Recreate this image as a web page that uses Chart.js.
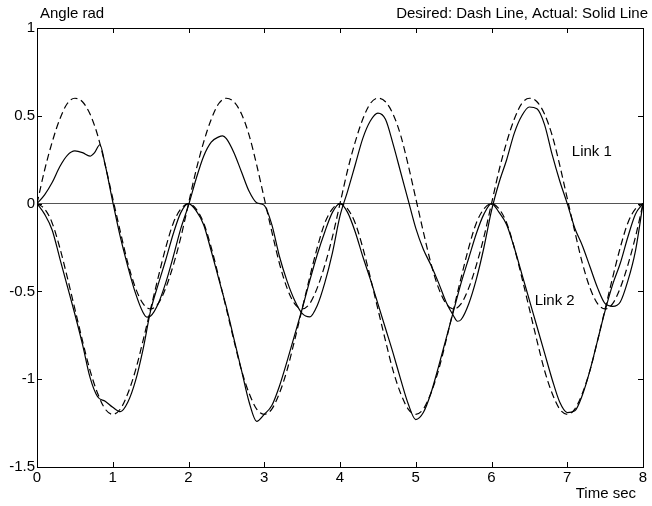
<!DOCTYPE html>
<html>
<head>
<meta charset="utf-8">
<script src="https://cdn.jsdelivr.net/npm/chart.js@4.4.1/dist/chart.umd.min.js"></script>
<style>
    body { margin: 0; background: #fff; }
    canvas { display: block; }
</style>
</head>
<body>
<canvas id="angleChart" width="652" height="506"></canvas>
<script>
// Time axis (sec), sampled every 0.1 s
const time = [
    0, 0.1, 0.2, 0.3, 0.4, 0.5, 0.6, 0.7, 0.8, 0.9,
    1, 1.1, 1.2, 1.3, 1.4, 1.5, 1.6, 1.7, 1.8, 1.9,
    2, 2.1, 2.2, 2.3, 2.4, 2.5, 2.6, 2.7, 2.8, 2.9,
    3, 3.1, 3.2, 3.3, 3.4, 3.5, 3.6, 3.7, 3.8, 3.9,
    4, 4.1, 4.2, 4.3, 4.4, 4.5, 4.6, 4.7, 4.8, 4.9,
    5, 5.1, 5.2, 5.3, 5.4, 5.5, 5.6, 5.7, 5.8, 5.9,
    6, 6.1, 6.2, 6.3, 6.4, 6.5, 6.6, 6.7, 6.8, 6.9,
    7, 7.1, 7.2, 7.3, 7.4, 7.5, 7.6, 7.7, 7.8, 7.9,
    8
];

// Desired link 1 (dashed)
const link1Desired = [
    0, 0.19, 0.35, 0.48, 0.57, 0.60, 0.58, 0.51, 0.39, 0.22,
    0.03, -0.16, -0.34, -0.48, -0.57, -0.60, -0.57, -0.48, -0.35, -0.19,
    0, 0.19, 0.35, 0.48, 0.57, 0.60, 0.58, 0.51, 0.39, 0.22,
    0.03, -0.16, -0.34, -0.48, -0.57, -0.60, -0.57, -0.48, -0.35, -0.19,
    0, 0.19, 0.35, 0.48, 0.57, 0.60, 0.58, 0.51, 0.39, 0.22,
    0.03, -0.16, -0.34, -0.48, -0.57, -0.60, -0.57, -0.48, -0.35, -0.19,
    0, 0.19, 0.35, 0.48, 0.57, 0.60, 0.58, 0.51, 0.39, 0.22,
    0.03, -0.16, -0.34, -0.48, -0.57, -0.60, -0.57, -0.48, -0.35, -0.19,
    0
];

// Desired link 2 (dashed)
const link2Desired = [
    0, -0.03, -0.11, -0.25, -0.42, -0.60, -0.78, -0.95, -1.08, -1.17,
    -1.20, -1.17, -1.08, -0.95, -0.78, -0.60, -0.42, -0.25, -0.11, -0.03,
    0, -0.03, -0.11, -0.25, -0.42, -0.60, -0.78, -0.95, -1.08, -1.17,
    -1.20, -1.17, -1.08, -0.95, -0.78, -0.60, -0.42, -0.25, -0.11, -0.03,
    0, -0.03, -0.11, -0.25, -0.42, -0.60, -0.78, -0.95, -1.08, -1.17,
    -1.20, -1.17, -1.08, -0.95, -0.78, -0.60, -0.42, -0.25, -0.11, -0.03,
    0, -0.03, -0.11, -0.25, -0.42, -0.60, -0.78, -0.95, -1.08, -1.17,
    -1.20, -1.17, -1.08, -0.95, -0.78, -0.60, -0.42, -0.25, -0.11, -0.03,
    0
];

// Actual link 2 (solid)
const link2Actual = [
    0, -0.06, -0.15, -0.31, -0.47, -0.63, -0.80, -0.99, -1.10, -1.125,
    -1.16, -1.185, -1.13, -1.01, -0.83, -0.61, -0.46, -0.32, -0.17, -0.05,
    0, -0.04, -0.12, -0.27, -0.43, -0.59, -0.77, -0.95, -1.13, -1.24,
    -1.20, -1.15, -1.04, -0.90, -0.75, -0.60, -0.44, -0.29, -0.16, -0.05,
    0, -0.05, -0.16, -0.30, -0.43, -0.57, -0.71, -0.85, -1.00, -1.14,
    -1.23, -1.19, -1.08, -0.93, -0.77, -0.61, -0.45, -0.31, -0.17, -0.06,
    0, -0.05, -0.12, -0.25, -0.40, -0.55, -0.70, -0.85, -1.00, -1.13,
    -1.19, -1.18, -1.09, -0.95, -0.78, -0.61, -0.46, -0.34, -0.19, -0.06,
    0
];

// Actual link 1 (solid) has a few extra samples around the wiggles
const link1ActualTime = [
    0, 0.1, 0.2, 0.3, 0.4, 0.5, 0.6, 0.7, 0.76, 0.83, 0.9,
    1, 1.1, 1.2, 1.3, 1.4, 1.45, 1.5, 1.6, 1.7, 1.8, 1.9,
    2, 2.1, 2.2, 2.3, 2.4, 2.45, 2.5, 2.6, 2.7, 2.8, 2.9,
    3, 3.1, 3.2, 3.3, 3.4, 3.5, 3.6, 3.7, 3.8, 3.9,
    4, 4.1, 4.2, 4.3, 4.4, 4.5, 4.6, 4.7, 4.8, 4.9,
    5, 5.1, 5.2, 5.3, 5.4, 5.5, 5.55, 5.6, 5.7, 5.8, 5.9,
    6, 6.1, 6.2, 6.3, 6.4, 6.5, 6.6, 6.7, 6.8, 6.9,
    7, 7.1, 7.2, 7.3, 7.4, 7.5, 7.6, 7.7, 7.8, 7.9,
    8
];
const link1Actual = [
    0, 0.05, 0.12, 0.21, 0.275, 0.30, 0.29, 0.27, 0.29, 0.335, 0.22,
    0.01, -0.19, -0.36, -0.51, -0.62, -0.646, -0.64, -0.57, -0.45, -0.30, -0.14,
    -0.01, 0.14, 0.27, 0.35, 0.38, 0.386, 0.37, 0.29, 0.18, 0.07, 0.005,
    -0.01, -0.12, -0.30, -0.44, -0.55, -0.625, -0.645, -0.58, -0.45, -0.28,
    -0.07, 0.07, 0.22, 0.37, 0.47, 0.515, 0.48, 0.34, 0.18, 0.02,
    -0.14, -0.26, -0.35, -0.45, -0.56, -0.64, -0.67, -0.66, -0.57, -0.43, -0.25,
    -0.04, 0.12, 0.25, 0.40, 0.50, 0.55, 0.54, 0.45, 0.28, 0.13,
    0.0, -0.14, -0.24, -0.36, -0.48, -0.57, -0.585, -0.56, -0.44, -0.27,
    0
];

const xTicks = [0, 1, 2, 3, 4, 5, 6, 7, 8];
const yTicks = [-1.5, -1, -0.5, 0, 0.5, 1];

const FONT = '"Liberation Sans", Arial, Helvetica, sans-serif';

function toPoints(xs, ys) {
    return xs.map((x, i) => ({ x: x, y: ys[i] }));
}

// box around the plot, inward ticks and the text labels
const framePlugin = {
    id: 'frame',
    afterDraw(chart) {
        const ctx = chart.ctx;
        const area = chart.chartArea;
        const xs = chart.scales.x;
        const ys = chart.scales.y;
        ctx.save();
        ctx.strokeStyle = '#000';
        ctx.lineWidth = 1;
        ctx.strokeRect(area.left + 0.5, area.top + 0.5, area.right - area.left, area.bottom - area.top);

        ctx.beginPath();
        xTicks.forEach(v => {
            const px = Math.round(xs.getPixelForValue(v)) + 0.5;
            ctx.moveTo(px, area.bottom);
            ctx.lineTo(px, area.bottom - 5);
            ctx.moveTo(px, area.top);
            ctx.lineTo(px, area.top + 5);
        });
        yTicks.forEach(v => {
            const py = Math.round(ys.getPixelForValue(v)) + 0.5;
            ctx.moveTo(area.left, py);
            ctx.lineTo(area.left + 5, py);
            ctx.moveTo(area.right, py);
            ctx.lineTo(area.right - 5, py);
        });
        ctx.stroke();

        ctx.fillStyle = '#000';
        ctx.font = '15px ' + FONT;
        ctx.textBaseline = 'alphabetic';
        ctx.textAlign = 'left';
        ctx.fillText('Angle rad', 40, 18);
        ctx.textAlign = 'right';
        ctx.fillText('Desired: Dash Line, Actual: Solid Line', 648, 18);
        ctx.fillText('Time sec', 636, 498);

        ctx.textAlign = 'left';
        ctx.fillText('Link 1', xs.getPixelForValue(7.06), ys.getPixelForValue(0.27));
        ctx.fillText('Link 2', xs.getPixelForValue(6.57), ys.getPixelForValue(-0.575));
        ctx.restore();
    }
};

const ctx = document.getElementById('angleChart').getContext('2d');
new Chart(ctx, {
    type: 'line',
    data: {
        datasets: [
            {
                label: 'Link 1 desired',
                data: toPoints(time, link1Desired),
                borderColor: '#000',
                borderWidth: 1.2,
                borderDash: [7, 4],
                pointRadius: 0,
                cubicInterpolationMode: 'monotone'
            },
            {
                label: 'Link 2 desired',
                data: toPoints(time, link2Desired),
                borderColor: '#000',
                borderWidth: 1.2,
                borderDash: [7, 4],
                pointRadius: 0,
                cubicInterpolationMode: 'monotone'
            },
            {
                label: 'Link 1 actual',
                data: toPoints(link1ActualTime, link1Actual),
                borderColor: '#000',
                borderWidth: 1.2,
                pointRadius: 0,
                cubicInterpolationMode: 'monotone'
            },
            {
                label: 'Link 2 actual',
                data: toPoints(time, link2Actual),
                borderColor: '#000',
                borderWidth: 1.2,
                pointRadius: 0,
                cubicInterpolationMode: 'monotone'
            }
        ]
    },
    options: {
        responsive: false,
        animation: false,
        layout: {
            padding: { top: 28, right: 9, left: 0, bottom: 0 }
        },
        plugins: {
            legend: { display: false },
            tooltip: { enabled: false }
        },
        scales: {
            x: {
                type: 'linear',
                min: 0,
                max: 8,
                afterFit: scale => { scale.height = 39; },
                afterBuildTicks: scale => { scale.ticks = xTicks.map(v => ({ value: v })); },
                grid: { display: false, drawTicks: false },
                border: { display: false },
                ticks: {
                    color: '#000',
                    padding: 2,
                    maxRotation: 0,
                    callback: v => String(v),
                    font: { family: FONT, size: 15 }
                }
            },
            y: {
                type: 'linear',
                min: -1.5,
                max: 1,
                afterFit: scale => { scale.width = 37; },
                afterBuildTicks: scale => { scale.ticks = yTicks.map(v => ({ value: v })); },
                grid: {
                    drawTicks: false,
                    color: c => (c.tick && c.tick.value === 0) ? '#555' : 'rgba(0,0,0,0)',
                    lineWidth: 1
                },
                border: { display: false },
                ticks: {
                    color: '#000',
                    padding: 2,
                    callback: v => String(v),
                    font: { family: FONT, size: 15 }
                }
            }
        }
    },
    plugins: [framePlugin]
});
</script>
</body>
</html>
